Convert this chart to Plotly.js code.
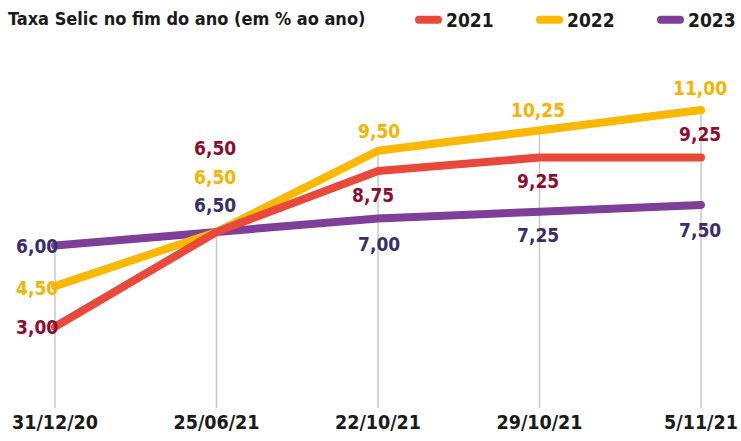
<!DOCTYPE html>
<html>
<head>
<meta charset="utf-8">
<script src="https://cdn.plot.ly/plotly-3.0.1.min.js"></script>
<style>
  html, body { margin: 0; padding: 0; background: #fff; }
  #chart { width: 741px; height: 441px; }
  .js-line { stroke-linecap: round !important; stroke-linejoin: round !important; }
  .legendlines path { stroke-linecap: round !important; d: path("M13,0h19"); }
</style>
</head>
<body>
<div id="chart"></div>
<script>
// ---- data ----
const categories = ["31/12/20", "25/06/21", "22/10/21", "29/10/21", "5/11/21"];
const seriesNames = ["2021", "2022", "2023"];
const values2021 = [3.00, 6.50, 8.75, 9.25, 9.25];
const values2022 = [4.50, 6.50, 9.50, 10.25, 11.00];
const values2023 = [6.00, 6.50, 7.00, 7.25, 7.50];
const chartTitle = "Taxa Selic no fim do ano (em % ao ano)";

// ---- styles ----
const FONT = "DejaVu Sans Condensed, DejaVu Sans, sans-serif";
const lineColors = { "2021": "#e8493b", "2022": "#fbb800", "2023": "#7d3f98" };
const labelColors = { "2021": "#8c0d2e", "2022": "#f5b400", "2023": "#3a2d6e" };
// label placement (pixel offsets from each point)
const placement = {
  "2021": [{a:"right", dx:5, dy:0}, {a:"center", dx:-2, dy:84}, {a:"center", dx:-5, dy:-24}, {a:"center", dx:-2, dy:-24}, {a:"center", dx:-1, dy:23}],
  "2022": [{a:"right", dx:5, dy:-2}, {a:"center", dx:-2, dy:55}, {a:"center", dx:1, dy:20}, {a:"center", dx:-2, dy:20}, {a:"center", dx:-1, dy:22}],
  "2023": [{a:"right", dx:5, dy:0}, {a:"center", dx:-2, dy:27}, {a:"center", dx:1, dy:-26}, {a:"center", dx:-2, dy:-23}, {a:"center", dx:-1, dy:-25}]
};

const seriesData = { "2021": values2021, "2022": values2022, "2023": values2023 };
const fmt = v => v.toFixed(2).replace(".", ",");

// draw order: purple bottom, yellow, red on top
const drawOrder = ["2023", "2022", "2021"];
const traces = drawOrder.map(name => ({
  type: "scatter",
  mode: "lines",
  name: name,
  x: categories,
  y: seriesData[name],
  line: { color: lineColors[name], width: 8 },
  legendrank: seriesNames.indexOf(name) + 1,
  hoverinfo: "skip"
}));

// vertical guide lines from 0 up to the highest value at each category
const shapes = categories.map((c, i) => ({
  type: "line", xref: "x", yref: "y", layer: "below",
  x0: c, x1: c, y0: 0,
  y1: Math.max(values2021[i], values2022[i], values2023[i]),
  line: { color: "#c8c8c8", width: 1.5 }
}));

const annotations = [];
seriesNames.forEach(name => {
  seriesData[name].forEach((v, i) => {
    const p = placement[name][i];
    annotations.push({
      x: categories[i], y: v, xref: "x", yref: "y",
      text: fmt(v), showarrow: false,
      xanchor: p.a, yanchor: "middle",
      xshift: p.dx, yshift: p.dy,
      font: { family: FONT, size: 19, color: labelColors[name], weight: "bold" }
    });
  });
});

const pxPerCat = (701 - 55) / 4;
const layout = {
  width: 741, height: 441,
  margin: { l: 15, r: 20, t: 83, b: 33, pad: 0 },
  paper_bgcolor: "#ffffff", plot_bgcolor: "#ffffff",
  showlegend: true,
  title: {
    text: chartTitle,
    xref: "container", yref: "container",
    x: 8 / 741, xanchor: "left",
    y: 1 - 19 / 441, yanchor: "middle",
    font: { family: FONT, size: 18, color: "#1a1a1a", weight: "bold" }
  },
  legend: {
    orientation: "h",
    xref: "container", yref: "container",
    x: 406 / 741, xanchor: "left",
    y: 1 - 20 / 441, yanchor: "middle",
    font: { family: FONT, size: 19, color: "#1a1a1a", weight: "bold" },
    itemwidth: 30,
    entrywidth: 76, entrywidthmode: "pixels",
    bgcolor: "rgba(0,0,0,0)"
  },
  xaxis: {
    type: "category",
    range: [-40 / pxPerCat, 4 + 20 / pxPerCat],
    showgrid: false, zeroline: false, showline: false,
    ticks: "",
    tickfont: { family: FONT, size: 19.5, color: "#1a1a1a", weight: "bold" },
    fixedrange: true
  },
  yaxis: {
    range: [0, 12],
    visible: false, showgrid: false, zeroline: false,
    fixedrange: true
  },
  shapes: shapes,
  annotations: annotations
};

Plotly.newPlot("chart", traces, layout, { displayModeBar: false, staticPlot: true });
</script>
</body>
</html>
